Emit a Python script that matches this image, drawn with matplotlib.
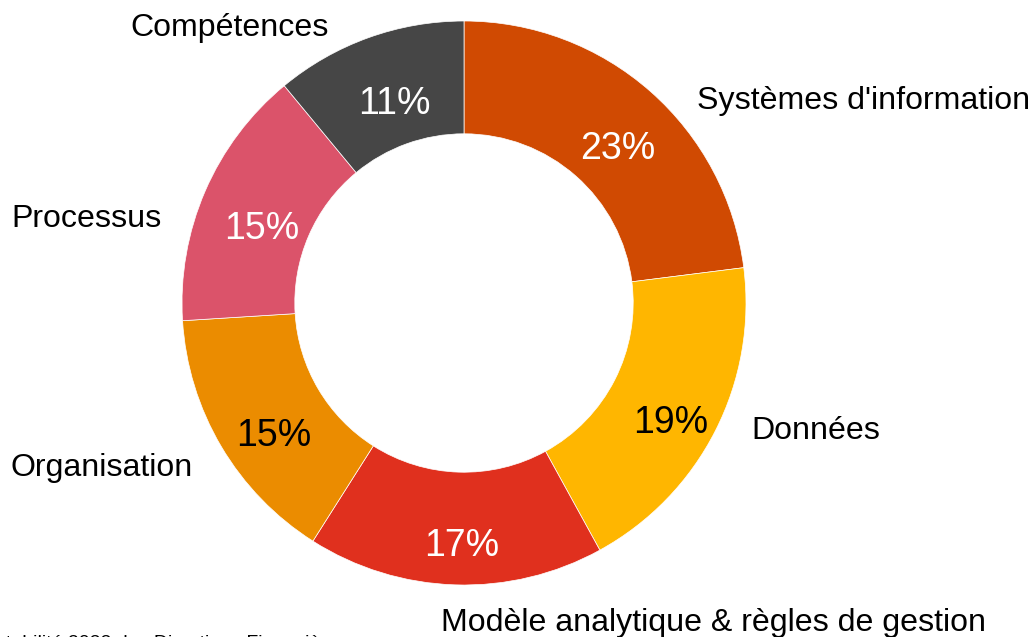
import matplotlib
matplotlib.use("Agg")
from matplotlib import pyplot as plt

plt.rcParams['font.family'] = ['Liberation Sans', 'DejaVu Sans']

# parts of the donut (clockwise from the top)
categories = ["Systèmes d'information", "Données", "Modèle analytique & règles de gestion",
              "Organisation", "Processus", "Compétences"]
values = [23, 19, 17, 15, 15, 11]
colors = ['#D04A02', '#FFB600', '#E0301E', '#EB8C00', '#DB536A', '#464646']
pct_colors = ['white', 'black', 'white', 'black', 'white', 'white']

# where the text goes (data coords, radius 1)
label_xy = [(0.826, 0.717), (1.018, -0.453), (0.883, -1.134),
            (-0.961, -0.584), (-1.074, 0.299), (-0.479, 0.976)]
label_ha = ['left', 'left', 'center', 'right', 'right', 'right']
pct_xy = [(0.546, 0.545), (0.734, -0.427), (-0.007, -0.863),
          (-0.674, -0.473), (-0.716, 0.261), (-0.248, 0.704)]

W, H = 1030, 637
fig = plt.figure(figsize=(W / 100, H / 100), dpi=100)
R = 282
ax = fig.add_axes([(464 - R) / W, (H - 303 - R) / H, 2 * R / W, 2 * R / H])

wedges, texts, autotexts = ax.pie(values, labels=categories, colors=colors,
                                  startangle=90, counterclock=False,
                                  autopct='%d%%', pctdistance=0.8,
                                  wedgeprops=dict(width=0.4, linewidth=0.5, edgecolor='white'),
                                  textprops=dict(fontsize=23.1))
ax.set_xlim(-1, 1)
ax.set_ylim(-1, 1)
ax.set_aspect('auto')

for i, t in enumerate(texts):
    t.set_position(label_xy[i])
    t.set_ha(label_ha[i])
    t.set_va('center')
    t.set_clip_on(False)

for i, t in enumerate(autotexts):
    t.set_position(pct_xy[i])
    t.set_color(pct_colors[i])
    t.set_fontsize(27)
    t.set_ha('center')
    t.set_va('center')

fig.text(-30 / W, (H - 635) / H, "Rentabilité 2022 des Directions Financières",
         fontsize=14, ha='left', va='top')

fig.savefig('out.png', dpi=100)
